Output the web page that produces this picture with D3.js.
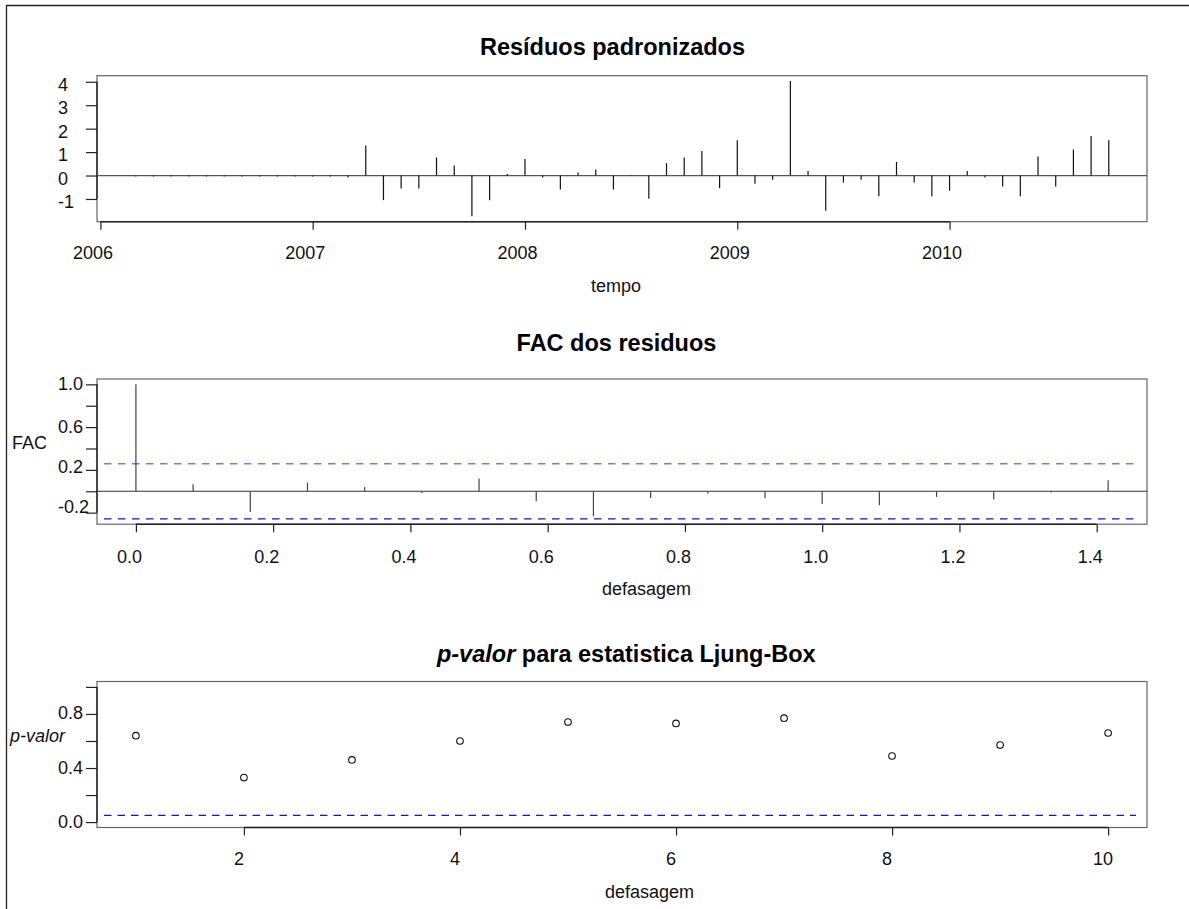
<!DOCTYPE html>
<html><head><meta charset="utf-8">
<script src="https://cdn.jsdelivr.net/npm/d3@7"></script>
<style>
html,body{margin:0;padding:0;background:#fff;}
svg{display:block;font-family:"Liberation Sans",Arial,sans-serif;}
</style></head>
<body><svg id="c" width="1189" height="909"></svg>
<script>
// ---------- DATA ----------
const residStartYear = 2006;           // monthly series, starts Jan 2006
const residValues = [
  0, 0, -0.04, -0.04, -0.04, -0.04, -0.04, -0.04, -0.04, -0.04, -0.04, -0.04,
  -0.04, -0.04, -0.08, 1.28, -1.05, -0.55, -0.55, 0.77, 0.43, -1.74, -1.06, 0.07,
  0.71, -0.08, -0.60, 0.13, 0.26, -0.60, -0.02, -0.99, 0.53, 0.77, 1.05, -0.54,
  1.51, -0.35, -0.18, 4.03, 0.19, -1.50, -0.30, -0.18, -0.88, 0.58, -0.30, -0.88,
  -0.65, 0.19, -0.08, -0.47, -0.88, 0.81, -0.47, 1.11, 1.69, 1.51
];
const residYTicks = [-1, 0, 1, 2, 3, 4];
const residXTicks = [2006, 2007, 2008, 2009, 2010];

const acfLagCount = 18;                // lags 0..17 months, in years
const acfValues = [1.0, 0.066, -0.194, 0.081, 0.04, -0.016, 0.119, -0.094, -0.234,
  -0.063, -0.022, -0.066, -0.119, -0.131, -0.053, -0.078, -0.012, 0.103];
const acfBand = 0.258;
const acfYTicks = [-0.2, 0.0, 0.2, 0.4, 0.6, 0.8, 1.0];
const acfYLabels = ["-0.2", "", "0.2", "", "0.6", "", "1.0"];
const acfXTicks = [0.0, 0.2, 0.4, 0.6, 0.8, 1.0, 1.2, 1.4];

const lbLags = [1, 2, 3, 4, 5, 6, 7, 8, 9, 10];
const lbPValues = [0.639, 0.329, 0.46, 0.60, 0.74, 0.73, 0.769, 0.489, 0.57, 0.659];
const lbLevel = 0.05;
const lbYTicks = [0.0, 0.2, 0.4, 0.6, 0.8, 1.0];
const lbYLabels = ["0.0", "", "0.4", "", "0.8", ""];
const lbXTicks = [2, 4, 6, 8, 10];

// ---------- LAYOUT ----------
const svg = d3.select("#c");
const L = 97, R = 1147;
const FONT = 18;

// outer frame (left & top only)
svg.append("path").attr("d", "M6.5,909 V5.5 H1189").attr("fill", "none")
  .attr("stroke", "#222").attr("stroke-width", 1.3);

function panel(o) {
  const g = svg.append("g");
  const x = d3.scaleLinear().domain(o.xdom).range([L, R]);
  const y = d3.scaleLinear().domain(o.ydom).range([o.bottom, o.top]);
  // box
  g.append("rect").attr("x", L).attr("y", o.top).attr("width", R - L).attr("height", o.bottom - o.top)
    .attr("fill", "none").attr("stroke", "#666").attr("stroke-width", 1.2);
  // x axis
  const xa = g.append("g").attr("transform", `translate(0,${o.bottom})`)
    .call(d3.axisBottom(x).tickValues(o.xticks).tickSize(8).tickSizeOuter(0).tickFormat(o.xfmt));
  xa.select(".domain").remove();
  xa.selectAll(".tick line").attr("stroke", "#222").attr("stroke-width", 1.2);
  xa.selectAll(".tick text").attr("font-size", FONT).attr("fill", "#111")
    .attr("font-family", "Liberation Sans, Arial, sans-serif")
    .attr("dy", null).attr("y", o.xLabBase - o.bottom).attr("dx", o.xLabDx);
  g.append("line").attr("x1", x(o.xticks[0])).attr("x2", x(o.xticks[o.xticks.length - 1]))
    .attr("y1", o.bottom).attr("y2", o.bottom).attr("stroke", "#222").attr("stroke-width", 1.6);
  // y axis
  const ya = g.append("g").attr("transform", `translate(${L},0)`)
    .call(d3.axisLeft(y).tickValues(o.yticks).tickSize(11).tickSizeOuter(0)
      .tickFormat((d, i) => o.ylabels[i]));
  ya.select(".domain").remove();
  ya.selectAll(".tick line").attr("stroke", "#222").attr("stroke-width", 1.2);
  ya.selectAll(".tick text").attr("font-size", FONT).attr("fill", "#111")
    .attr("font-family", "Liberation Sans, Arial, sans-serif")
    .attr("text-anchor", "start").attr("x", 58 - L)
    .attr("dy", null).attr("y", (d, i) => o.yLabDy(o.ylabels[i]));
  g.append("line").attr("x1", L).attr("x2", L)
    .attr("y1", y(o.yticks[0])).attr("y2", y(o.yticks[o.yticks.length - 1]))
    .attr("stroke", "#222").attr("stroke-width", 1.4);
  // title
  const t = g.append("text").attr("x", o.titleX).attr("y", o.titleY).attr("text-anchor", "middle")
    .attr("font-size", 23.5).attr("font-weight", "bold").attr("fill", "#000");
  o.title.forEach(s => t.append("tspan").text(s.t).attr("font-style", s.it ? "italic" : "normal"));
  // x label
  g.append("text").attr("x", o.xlabX).attr("y", o.xlabY).attr("text-anchor", "middle")
    .attr("font-size", FONT).attr("fill", "#111").text(o.xlab);
  if (o.ylab) g.append("text").attr("x", o.ylab.x).attr("y", o.ylab.y)
    .attr("font-size", FONT).attr("fill", "#111").attr("font-style", o.ylab.it ? "italic" : "normal")
    .text(o.ylab.t);
  return { g, x, y };
}

// ---------- PANEL 1: standardized residuals ----------
const p1 = panel({
  top: 75.7, bottom: 221.7, xdom: [2005.984, 2010.93], ydom: [-1.97, 4.26],
  xticks: residXTicks, xfmt: d3.format("d"), xLabBase: 259.5, xLabDx: -8,
  yticks: residYTicks, ylabels: residYTicks.map(String), yLabDy: () => 8.5,
  title: [{ t: "Resíduos padronizados" }], titleX: 612.5, titleY: 55,
  xlab: "tempo", xlabX: 616, xlabY: 291.5
});
p1.g.append("line").attr("x1", L).attr("x2", R).attr("y1", p1.y(0)).attr("y2", p1.y(0))
  .attr("stroke", "#555").attr("stroke-width", 1.2);
p1.g.selectAll("line.spk").data(residValues).join("line").attr("class", "spk")
  .attr("x1", (d, i) => p1.x(residStartYear + i / 12)).attr("x2", (d, i) => p1.x(residStartYear + i / 12))
  .attr("y1", p1.y(0)).attr("y2", d => p1.y(d)).attr("stroke", "#111").attr("stroke-width", 1.2);

// ---------- PANEL 2: ACF ----------
const p2 = panel({
  top: 379, bottom: 524.2, xdom: [-0.0567, 1.4733], ydom: [-0.308, 1.05],
  xticks: acfXTicks, xfmt: d3.format(".1f"), xLabBase: 563.5, xLabDx: -7,
  yticks: acfYTicks, ylabels: acfYLabels, yLabDy: s => s === "-0.2" ? -0.5 : (s === "0.2" ? 3 : 5.5),
  title: [{ t: "FAC dos residuos" }], titleX: 616.5, titleY: 350.7,
  xlab: "defasagem", xlabX: 646.5, xlabY: 594.5,
  ylab: { t: "FAC", x: 12, y: 449.3 }
});
p2.g.append("line").attr("x1", L).attr("x2", R).attr("y1", p2.y(0)).attr("y2", p2.y(0))
  .attr("stroke", "#333").attr("stroke-width", 1.2);
p2.g.append("line").attr("x1", 104).attr("x2", 1136).attr("y1", p2.y(acfBand)).attr("y2", p2.y(acfBand))
  .attr("stroke", "#7878ff").attr("stroke-width", 1.5).attr("stroke-dasharray", "7.5,6.5");
p2.g.append("line").attr("x1", 104).attr("x2", 1136).attr("y1", p2.y(-acfBand)).attr("y2", p2.y(-acfBand))
  .attr("stroke", "#1010e8").attr("stroke-width", 1.2).attr("stroke-dasharray", "7.5,6.5");
p2.g.selectAll("line.spk").data(acfValues.slice(0, acfLagCount)).join("line").attr("class", "spk")
  .attr("x1", (d, i) => p2.x(i / 12)).attr("x2", (d, i) => p2.x(i / 12))
  .attr("y1", p2.y(0)).attr("y2", d => p2.y(d)).attr("stroke", "#444").attr("stroke-width", 1.2);

// ---------- PANEL 3: Ljung-Box p-values ----------
const p3 = panel({
  top: 681.5, bottom: 827.5, xdom: [0.64, 10.36], ydom: [-0.04, 1.04],
  xticks: lbXTicks, xfmt: d3.format("d"), xLabBase: 865, xLabDx: -5.5,
  yticks: lbYTicks, ylabels: lbYLabels, yLabDy: () => 5,
  title: [{ t: "p-valor", it: true }, { t: " para estatistica Ljung-Box" }], titleX: 626.3, titleY: 661.7,
  xlab: "defasagem", xlabX: 649.5, xlabY: 898,
  ylab: { t: "p-valor", x: 10, y: 741.5, it: true }
});
p3.g.append("line").attr("x1", 104).attr("x2", 1136).attr("y1", p3.y(lbLevel)).attr("y2", p3.y(lbLevel))
  .attr("stroke", "#1010ee").attr("stroke-width", 1.2).attr("stroke-dasharray", "7.5,6");
p3.g.selectAll("circle").data(lbPValues).join("circle")
  .attr("cx", (d, i) => p3.x(lbLags[i])).attr("cy", d => p3.y(d)).attr("r", 3.3)
  .attr("fill", "none").attr("stroke", "#111").attr("stroke-width", 1.1);
</script></body></html>
